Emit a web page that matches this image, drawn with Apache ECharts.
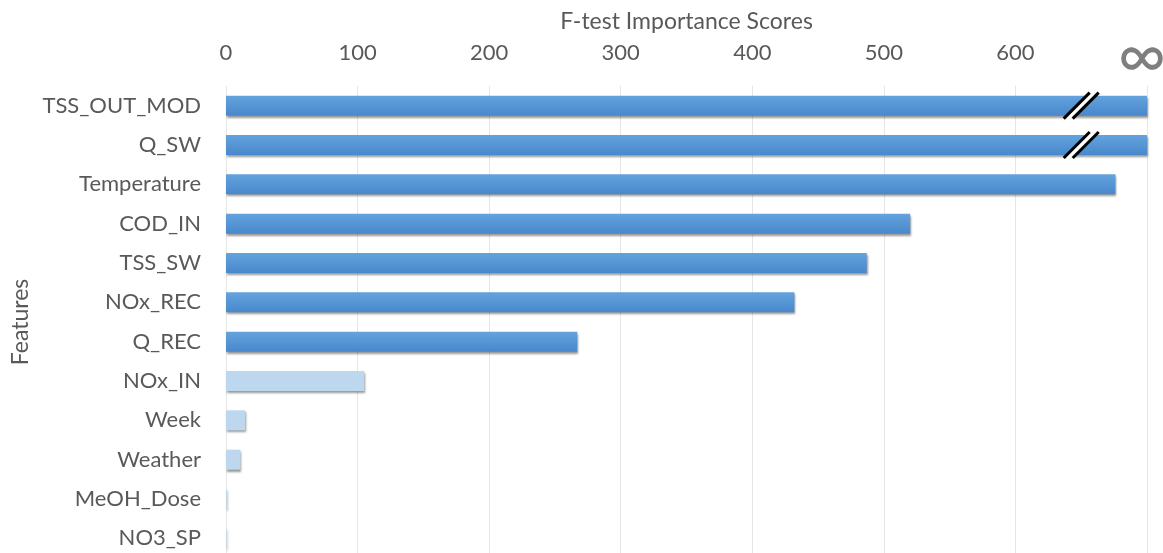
<!DOCTYPE html>
<html>
<head>
<meta charset="utf-8">
<script src="https://cdn.jsdelivr.net/npm/echarts@6/dist/echarts.min.js"></script>
<style>html,body{margin:0;padding:0;background:#fff}#c{width:1163px;height:553px}</style>
</head>
<body>
<div id="c"></div>
<script>
// Data
const features = ['TSS_OUT_MOD','Q_SW','Temperature','COD_IN','TSS_SW','NOx_REC','Q_REC','NOx_IN','Week','Weather','MeOH_Dose','NO3_SP'];
const scores = [700, 700, 676, 520, 487, 432, 267, 105, 14.5, 11, 0.6, 0.4]; // 700 = infinite (axis end)
const selected = [true, true, true, true, true, true, true, false, false, false, false, false];
const xTicks = [0, 100, 200, 300, 400, 500, 600, 700];
const xTickLabels = ['0','100','200','300','400','500','600','∞'];
const breakAt = 650;
const brokenFeatures = ['TSS_OUT_MOD','Q_SW'];

const dark = new echarts.graphic.LinearGradient(0,0,0,1,[{offset:0,color:'#64a3dd'},{offset:1,color:'#4888cc'}]);
const light = '#bdd7ee';

const chart = echarts.init(document.getElementById('c'));
const FONT = 'Lato';
chart.setOption({
  animation: false,
  textStyle: {fontFamily: FONT},
  grid: {left: 226, right: 16, top: 86, height: 472, containLabel: false, outerBoundsMode: 'none'},
  xAxis: {
    type: 'value', position: 'top', min: 0, max: 700, interval: 100,
    name: 'F-test Importance Scores', nameLocation: 'middle', nameGap: 53, nameMoveOverlap: false,
    nameTextStyle: {color: '#595959', fontSize: 23, fontFamily: FONT},
    axisLine: {show: false}, axisTick: {show: false},
    axisLabel: {
      color: '#595959', fontSize: 22, margin: 22, fontFamily: FONT,
      formatter: v => { const i = xTicks.indexOf(v); const t = i >= 0 ? xTickLabels[i] : ''; return t === '∞' ? '{inf|∞}' : t; },
      rich: {inf: {fontSize: 66, lineHeight: 22, color: '#7f7f7f', fontFamily: FONT, padding: [0, 10, -8, 0]}}
    },
    splitLine: {show: true, lineStyle: {color: '#e6e6e6', width: 1}}
  },
  yAxis: {
    type: 'category', inverse: true, data: features,
    name: 'Features', nameLocation: 'middle', nameGap: 194, nameRotate: 90, nameMoveOverlap: false,
    nameTextStyle: {color: '#595959', fontSize: 23, fontFamily: FONT},
    axisLine: {show: false}, axisTick: {show: false},
    axisLabel: {color: '#595959', fontSize: 22, margin: 25, fontFamily: FONT}
  },
  series: [{
    type: 'bar', barWidth: 20, data: scores.map((v, i) => ({value: v, itemStyle: {color: selected[i] ? dark : light}})),
    itemStyle: {shadowColor: 'rgba(0,0,0,0.4)', shadowBlur: 2, shadowOffsetX: 1, shadowOffsetY: 2}
  }, {
    type: 'custom', coordinateSystem: 'cartesian2d', z: 10,
    data: brokenFeatures.map(f => [breakAt, f]),
    renderItem: (params, api) => {
      const p = api.coord([api.value(0), api.value(1)]);
      const x = p[0], y = p[1];
      const dx = 13, dy = 13, g = 4.5;
      return {type: 'group', children: [
        {type: 'polygon', shape: {points: [[x-dx-g, y+dy],[x+dx-g, y-dy],[x+dx+g, y-dy],[x-dx+g, y+dy]]}, style: {fill: '#fff'}},
        {type: 'line', shape: {x1: x-dx-g, y1: y+dy, x2: x+dx-g, y2: y-dy}, style: {stroke: '#000', lineWidth: 3}},
        {type: 'line', shape: {x1: x-dx+g, y1: y+dy, x2: x+dx+g, y2: y-dy}, style: {stroke: '#000', lineWidth: 3}}
      ]};
    },
    encode: {x: 0, y: 1}
  }]
});
</script>
</body>
</html>
